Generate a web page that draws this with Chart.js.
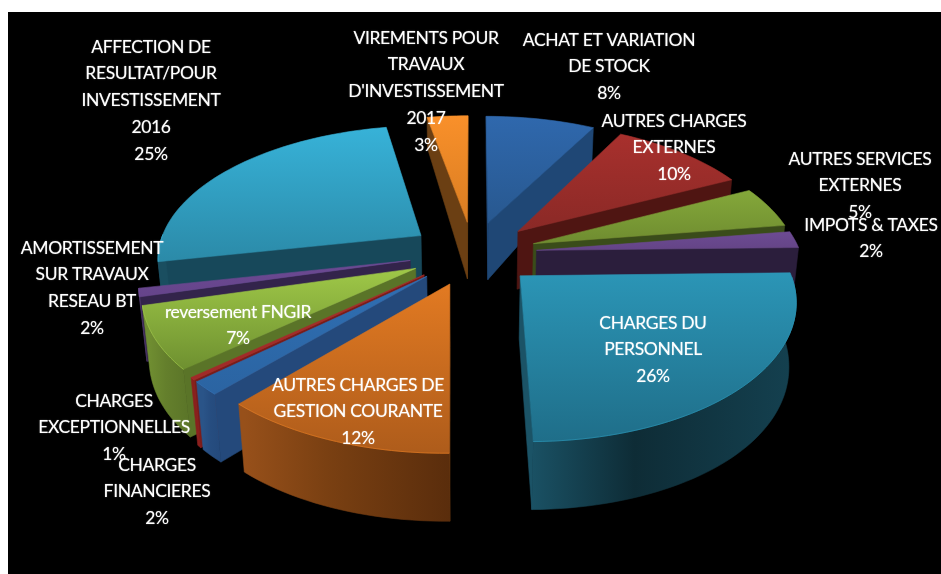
<!DOCTYPE html>
<html>
<head>
<meta charset="utf-8">
<script src="https://cdn.jsdelivr.net/npm/chart.js@4"></script>
<style>
  html, body { margin: 0; background: #fff; }
  canvas { display: block; }
</style>
</head>
<body>
<canvas id="pie" width="941" height="574"></canvas>
<script>
const categories = [
  ["ACHAT ET VARIATION", "DE STOCK"],
  ["AUTRES CHARGES", "EXTERNES"],
  ["AUTRES SERVICES", "EXTERNES"],
  ["IMPOTS & TAXES"],
  ["CHARGES DU", "PERSONNEL"],
  ["AUTRES CHARGES DE", "GESTION COURANTE"],
  ["CHARGES", "FINANCIERES"],
  ["CHARGES", "EXCEPTIONNELLES"],
  ["reversement FNGIR"],
  ["AMORTISSEMENT", "SUR TRAVAUX", "RESEAU BT"],
  ["AFFECTION DE", "RESULTAT/POUR", "INVESTISSEMENT", "2016"],
  ["VIREMENTS POUR", "TRAVAUX", "D'INVESTISSEMENT", "2017"]
]
// printed on the labels
const percents = [8, 10, 5, 2, 26, 12, 2, 1, 7, 2, 25, 3]
// slice sizes (the printed ones are rounded)
const shares = [8, 10, 5, 2, 25.5, 12, 1.6, 0.3, 7.4, 1, 25.6, 3]

// top face colours, light to dark
const topLight = ["#2f68ad", "#a8302d", "#84a83a", "#6d4b93", "#2b95b6", "#e27a22", "#2f6fb3", "#a82c2a", "#9fc848", "#6d4a94", "#37b2d8", "#f9902a"]
const topDark = ["#28588f", "#8a2926", "#6f8c30", "#644486", "#1f6e89", "#ae5c1b", "#2b64a2", "#a02a28", "#6e9030", "#65448a", "#2b8aa8", "#d97d22"]
// side walls: radial wall colour, then the outer wall left / middle / right
const wallSide = ["#1f4775", "#4f1512", "#3a4c1a", "#2b1e3c", "#1b5366", "#7f4413", "#24497b", "#7a1c1a", "#5a7428", "#33244b", "#17485a", "#6b3f13"]
const wallLeft = ["#1f4775", "#4f1512", "#3a4c1a", "#2b1e3c", "#1a5164", "#97501a", "#2a5488", "#8a1f1d", "#6f8d31", "#4a3466", "#1a4e60", "#6b3f13"]
const wallMid = ["#1f4775", "#4f1512", "#3a4c1a", "#2b1e3c", "#0e2c36", "#7a4012", "#264d80", "#8a1f1d", "#647f2c", "#4a3466", "#17485a", "#6b3f13"]
const wallRight = ["#1f4775", "#4f1512", "#3a4c1a", "#2b1e3c", "#14404f", "#5a2d0c", "#24497b", "#8a1f1d", "#5a7428", "#4a3466", "#17485a", "#6b3f13"]

// centre of the label block: x, y of the first line
const labelSpots = [
  [609, 40], [674, 121], [860, 159], [871, 225], [653, 323], [358, 385],
  [157, 465], [114, 401], [238, 312], [92, 248], [151, 47], [426, 38]
]
const lineStep = 26.8

// view of the pie plane
const cx = 473, cy = 253, radX = 264, radY = 132, persp = 0.156

function scaleAt(v) {
  return 1 / (1 - persp * v)
}

function wallDepth(v) {
  const d = Math.min(v, 1) - 1
  return 68 - 7.5 * d * d
}

function project(u, v, drop) {
  const f = scaleAt(v)
  const h = drop ? wallDepth(v) : 0
  const x = cx + u * radX * f
  return {
    x: cx + (x - cx) * (1 - 0.00035 * h),
    y: cy + v * radY * f + h
  }
}

function tracePath(ctx, pts) {
  ctx.beginPath()
  pts.forEach((p, i) => i ? ctx.lineTo(p.x, p.y) : ctx.moveTo(p.x, p.y))
  ctx.closePath()
}

function signedArea(pts) {
  let s = 0
  pts.forEach((p, i) => {
    const q = pts[(i + 1) % pts.length]
    s += p.x * q.y - q.x * p.y
  })
  return s
}

function fillFace(ctx, pts, fill) {
  tracePath(ctx, pts)
  ctx.fillStyle = fill
  ctx.strokeStyle = fill
  ctx.lineWidth = 0.6
  ctx.fill()
  ctx.stroke()
}

function drawSlice(ctx, arc, i) {
  const r = arc.outerRadius
  const off = arc.options.offset / r
  const mid = (arc.startAngle + arc.endAngle) / 2
  const ou = Math.cos(mid) * off
  const ov = Math.sin(mid) * off

  const rim = []
  const steps = Math.max(2, Math.ceil((arc.endAngle - arc.startAngle) / 0.03))
  for (let s = 0; s <= steps; s++) {
    const a = arc.startAngle + (arc.endAngle - arc.startAngle) * s / steps
    rim.push({ u: Math.cos(a) + ou, v: Math.sin(a) + ov, nv: Math.sin(a) })
  }
  const topRim = rim.map(p => project(p.u, p.v, false))
  const lowRim = rim.map(p => project(p.u, p.v, true))
  const apexTop = project(ou, ov, false)
  const apexLow = project(ou, ov, true)

  // radial walls, only the ones facing the viewer
  const startWall = [apexTop, topRim[0], lowRim[0], apexLow]
  const endWall = [apexTop, topRim[steps], lowRim[steps], apexLow]
  if (signedArea(startWall) < 0) fillFace(ctx, startWall, wallSide[i])
  if (signedArea(endWall) > 0) fillFace(ctx, endWall, wallSide[i])

  // outer wall, the front facing part of the rim as one shape
  const front = rim.map((p, s) => s).filter(s => rim[s].nv >= -0.02)
  if (front.length > 1) {
    const xs = lowRim.map(p => p.x)
    const wallGrad = ctx.createLinearGradient(Math.min(...xs), 0, Math.max(...xs), 0)
    wallGrad.addColorStop(0, wallLeft[i])
    wallGrad.addColorStop(0.4, wallMid[i])
    wallGrad.addColorStop(1, wallRight[i])
    const upper = front.map(s => topRim[s])
    const lower = front.map(s => lowRim[s]).reverse()
    fillFace(ctx, [...upper, ...lower], wallGrad)
  }

  // top face
  const face = [apexTop, ...topRim]
  const ys = face.map(p => p.y)
  const topGrad = ctx.createLinearGradient(0, Math.min(...ys), 0, Math.max(...ys))
  topGrad.addColorStop(0, topLight[i])
  topGrad.addColorStop(1, topDark[i])
  fillFace(ctx, face, topGrad)

  // soft light edge along the front of the rim
  if (front.length > 1) {
    ctx.beginPath()
    front.forEach((s, n) => n ? ctx.lineTo(topRim[s].x, topRim[s].y) : ctx.moveTo(topRim[s].x, topRim[s].y))
    ctx.strokeStyle = topLight[i]
    ctx.globalAlpha = 0.7
    ctx.lineWidth = 1
    ctx.stroke()
    ctx.globalAlpha = 1
  }
}

const pie3d = {
  id: "pie3d",
  beforeDraw(chart) {
    const ctx = chart.ctx
    ctx.fillStyle = "#000"
    ctx.fillRect(8, 12, 933, 562)
  },
  beforeDatasetsDraw(chart) {
    const ctx = chart.ctx
    const arcs = chart.getDatasetMeta(0).data
    // back slices first
    const order = arcs.map((a, i) => i).sort((p, q) => {
      const mp = (arcs[p].startAngle + arcs[p].endAngle) / 2
      const mq = (arcs[q].startAngle + arcs[q].endAngle) / 2
      return Math.sin(mp) - Math.sin(mq)
    })
    ctx.save()
    order.forEach(i => drawSlice(ctx, arcs[i], i))
    ctx.restore()
    return false
  },
  afterDraw(chart) {
    const ctx = chart.ctx
    ctx.save()
    ctx.fillStyle = "#fff"
    ctx.font = "17.5px Lato"
    ctx.letterSpacing = "-0.35px"
    ctx.textAlign = "center"
    ctx.textBaseline = "middle"
    ctx.shadowColor = "rgba(255,255,255,0.55)"
    ctx.shadowBlur = 1.2
    categories.forEach((lines, i) => {
      const [x, y] = labelSpots[i]
      const all = [...lines, percents[i] + "%"]
      all.forEach((t, n) => ctx.fillText(t, x, y + n * lineStep))
    })
    ctx.restore()
  }
}

new Chart(document.getElementById("pie"), {
  type: "pie",
  data: {
    labels: categories.map(c => c.join(" ")),
    datasets: [{
      data: shares,
      backgroundColor: topLight,
      borderWidth: 0,
      offset: 62
    }]
  },
  options: {
    responsive: false,
    animation: false,
    events: [],
    plugins: { legend: { display: false }, tooltip: { enabled: false } }
  },
  plugins: [pie3d]
})
</script>
</body>
</html>
